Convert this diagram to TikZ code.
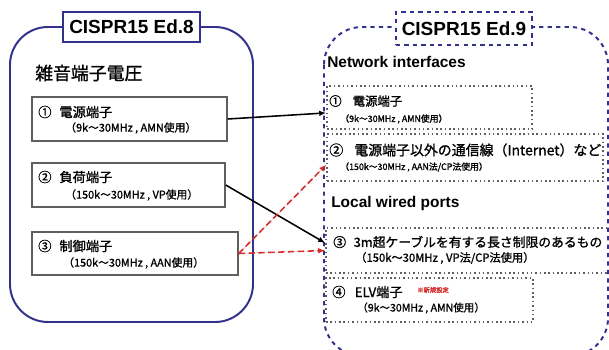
\documentclass[tikz,border=0pt]{standalone}
\usepackage{fontspec}
\setmainfont{Liberation Sans}
\newfontfamily\jp[FakeBold=1.2]{Noto Sans CJK JP}
\usetikzlibrary{fit}
\usetikzlibrary{arrows.meta}
\definecolor{edblue}{RGB}{50,50,140}
\definecolor{boxgray}{RGB}{95,95,95}
\definecolor{linkred}{RGB}{214,40,40}

\begin{document}
\begin{tikzpicture}[x=0.025cm,y=-0.025cm,
  panel/.style={draw=edblue,line width=1.4pt,rounded corners=27pt},
  titlebox/.style={draw=edblue,line width=1.4pt,fill=white,inner sep=0pt},
  titletext/.style={font=\bfseries\fontsize{13.5}{15}\selectfont,inner sep=0pt},
  headtext/.style={anchor=west,inner sep=0pt,font=\bfseries\fontsize{11}{13}\selectfont},
  oldbox/.style={draw=boxgray,line width=1pt,fill=white,inner sep=0pt},
  newbox/.style={draw=boxgray,line width=1.1pt,dotted,inner sep=0pt},
  lineone/.style={anchor=west,inner sep=0pt,font=\jp\fontsize{9.4}{11}\selectfont},
  linetwo/.style={anchor=west,inner sep=0pt,font=\jp\fontsize{7.7}{9}\selectfont},
  linesmall/.style={anchor=west,inner sep=0pt,font=\jp\fontsize{6.3}{8}\selectfont},
  link/.style={-{Latex[length=5pt,width=4pt]},line width=1.1pt},
  linkdash/.style={link,draw=linkred,fill=linkred,dash pattern=on 4.5pt off 2.5pt}]
\useasboundingbox (0,0) rectangle (609,349);
\clip (0,0) rectangle (609,349);
\fill[white] (0,0) rectangle (609,349);

% CISPR15 Ed.8
\draw[panel] (10,27) rectangle (253,322);
\node[titlebox,fit={(63,12) (200,42)}] (ed8) {};
\node[titletext] (ed8t) at (ed8.center) {CISPR15 Ed.8};
\node[anchor=west,inner sep=0pt,font=\jp\fontsize{12.7}{14}\selectfont] (noise) at (35,73) {雑音端子電圧};

\node[oldbox,fit={(32,97) (227,141)}] (o1) {};
\node[lineone] (o1a) at (38,112) {①\hspace{0.6em}電源端子};
\node[linetwo] (o1b) at (65,128) {（9k～30MHz , AMN使用）};

\node[oldbox,fit={(32,163) (225,207)}] (o2) {};
\node[lineone] (o2a) at (38,177) {②\hspace{0.6em}負荷端子};
\node[linetwo] (o2b) at (65,195) {（150k～30MHz , VP使用）};

\node[oldbox,fit={(32,232) (238,275)}] (o3) {};
\node[lineone] (o3a) at (38,246) {③\hspace{0.6em}制御端子};
\node[linetwo] (o3b) at (63,263) {（150k～30MHz , AAN使用）};

% CISPR15 Ed.9
\draw[panel,dashed] (324,27) rectangle (608,356);
\node[titlebox,dashed,fit={(396,12) (532,45)}] (ed9) {};
\node[titletext] (ed9t) at (ed9.center) {CISPR15 Ed.9};
\node[headtext] (netif) at (327,62) {Network interfaces};

\node[newbox,fit={(327,86) (532,129)}] (n1) {};
\node[lineone,font=\jp\fontsize{8.8}{10}\selectfont] (n1a) at (329,101) {①\hspace{0.9em}電源端子};
\node[linesmall] (n1b) at (340,119) {（9k～30MHz , AMN使用）};

\node[newbox,fit={(327,134) (603,181)}] (n2) {};
\node[lineone,font=\jp\fontsize{9.9}{11}\selectfont] (n2a) at (329,150) {②\hspace{0.8em}電源端子以外の通信線（Internet）など};
\node[linesmall] (n2b) at (340,167) {（150k～30MHz , AAN法/CP法使用）};

\node[headtext] (lwp) at (331,203) {Local wired ports};

\node[newbox,fit={(326,228) (612,273)}] (n3) {};
\node[lineone,font=\jp\fontsize{9.1}{11}\selectfont] (n3a) at (333,242) {③\hspace{0.6em}3m超ケーブルを有する長さ制限のあるもの};
\node[linetwo,font=\jp\fontsize{8}{9}\selectfont] (n3b) at (355,258) {（150k～30MHz , VP法/CP法使用）};

\node[newbox,fit={(326,278) (533,322)}] (n4) {};
\node[lineone] (n4a) at (332,292) {④\hspace{0.7em}ELV端子};
\node[anchor=west,inner sep=0pt,text=linkred,font=\jp\fontsize{4.5}{5}\selectfont] (n4n) at (417,290) {※新規設定};
\node[linetwo,font=\jp\fontsize{7.5}{9}\selectfont] (n4b) at (357,308) {（9k～30MHz , AMN使用）};

% connectors
\draw[link] (o1.east) -- (n1.183);
\draw[link] (o2.east) -- (n3.177);
\draw[linkdash] (o3.east) -- (n2.183);
\draw[linkdash] (o3.east) -- (n3.west);

\end{tikzpicture}
\end{document}
